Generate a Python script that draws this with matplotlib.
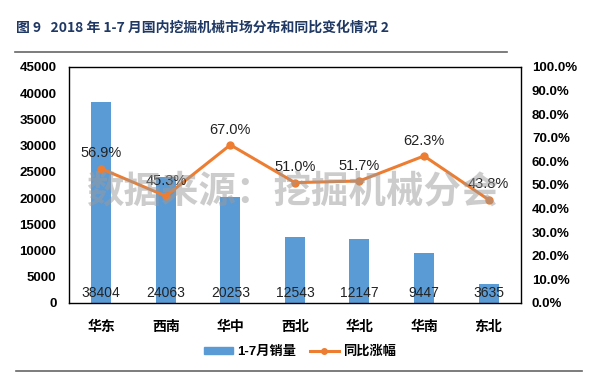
import numpy as np
import matplotlib.pyplot as plt
from matplotlib.lines import Line2D

plt.rcParams['font.family'] = ['Liberation Sans', 'Noto Sans CJK SC', 'DejaVu Sans']

regions = ["华东", "西南", "华中", "西北", "华北", "华南", "东北"]
sales = [38404, 24063, 20253, 12543, 12147, 9447, 3635]
growth = [56.9, 45.3, 67.0, 51.0, 51.7, 62.3, 43.8]

bar_color = "#5B9BD5"
line_color = "#ED7D31"

fig = plt.figure(figsize=(6, 3.85), dpi=100)
ax = fig.add_axes([0.115, 0.213, 0.753, 0.613])
ax2 = ax.twinx()

x = np.arange(len(regions))
ax.bar(x, sales, width=0.31, color=bar_color, zorder=2)
ax.set_xlim(-0.5, len(regions) - 0.5)
ax.set_ylim(0, 45000)
ax.set_yticks(np.arange(0, 45001, 5000))
ax.set_xticks(x)
ax.set_xticklabels(regions, fontweight='bold', fontsize=10,
                   family=['Noto Sans CJK SC', 'DejaVu Sans'])
ax.tick_params(axis='x', length=0, pad=12)
ax.tick_params(axis='y', length=0, labelsize=9.5, pad=9)
for lab in ax.get_yticklabels():
    lab.set_fontweight('bold')
for s in ax.spines.values():
    s.set_linewidth(1.0)
    s.set_color('black')

for xi, v in zip(x, sales):
    ax.text(xi, 2000, str(v), ha='center', va='center', fontsize=10, color='#222222', zorder=3)

ax2.plot(x, growth, color=line_color, lw=2.2, marker='o', markersize=5, zorder=4)
ax2.set_ylim(0, 100)
ax2.set_yticks(np.arange(0, 101, 10))
ax2.set_yticklabels([f"{v:.1f}%" for v in np.arange(0, 101, 10)])
ax2.tick_params(axis='y', length=0, labelsize=9.5, pad=8)
for lab in ax2.get_yticklabels():
    lab.set_fontweight('bold')
for s in ax2.spines.values():
    s.set_visible(False)

for xi, v in zip(x, growth):
    ax2.text(xi, v + 6.5, f"{v:.1f}%", ha='center', va='center', fontsize=10.5, color='#222222', zorder=5)

# watermark
fig.text(0.488, 0.505, "数据来源：挖掘机械分会", ha='center', va='center', fontsize=27,
         fontweight='bold', color='#9a9a9a', alpha=0.5,
         family=['Noto Sans CJK SC', 'DejaVu Sans'], zorder=10)

# title and rules
fig.text(0.026, 0.927, "图 9   2018 年 1-7 月国内挖掘机械市场分布和同比变化情况 2", ha='left', va='center',
         fontsize=10, fontweight='bold', color='#1F3864',
         family=['Noto Sans CJK SC', 'DejaVu Sans'])
fig.add_artist(Line2D([0.025, 0.845], [0.865, 0.865], color='#666666', lw=1.2))
fig.add_artist(Line2D([0.027, 0.97], [0.036, 0.036], color='#666666', lw=1.2))

handles = [plt.Rectangle((0, 0), 1, 1, color=bar_color),
           Line2D([], [], color=line_color, lw=2.2, marker='o', markersize=4)]
leg = fig.legend(handles, ["1-7月销量", "同比涨幅"], loc='center', bbox_to_anchor=(0.5, 0.086),
                 ncol=2, frameon=False, handlelength=2.2, handleheight=0.45, handletextpad=0.3,
                 columnspacing=1.0,
                 prop={'family': ['Liberation Sans', 'Noto Sans CJK SC'], 'weight': 'bold', 'size': 9.5})

fig.savefig("out.png", dpi=100)
